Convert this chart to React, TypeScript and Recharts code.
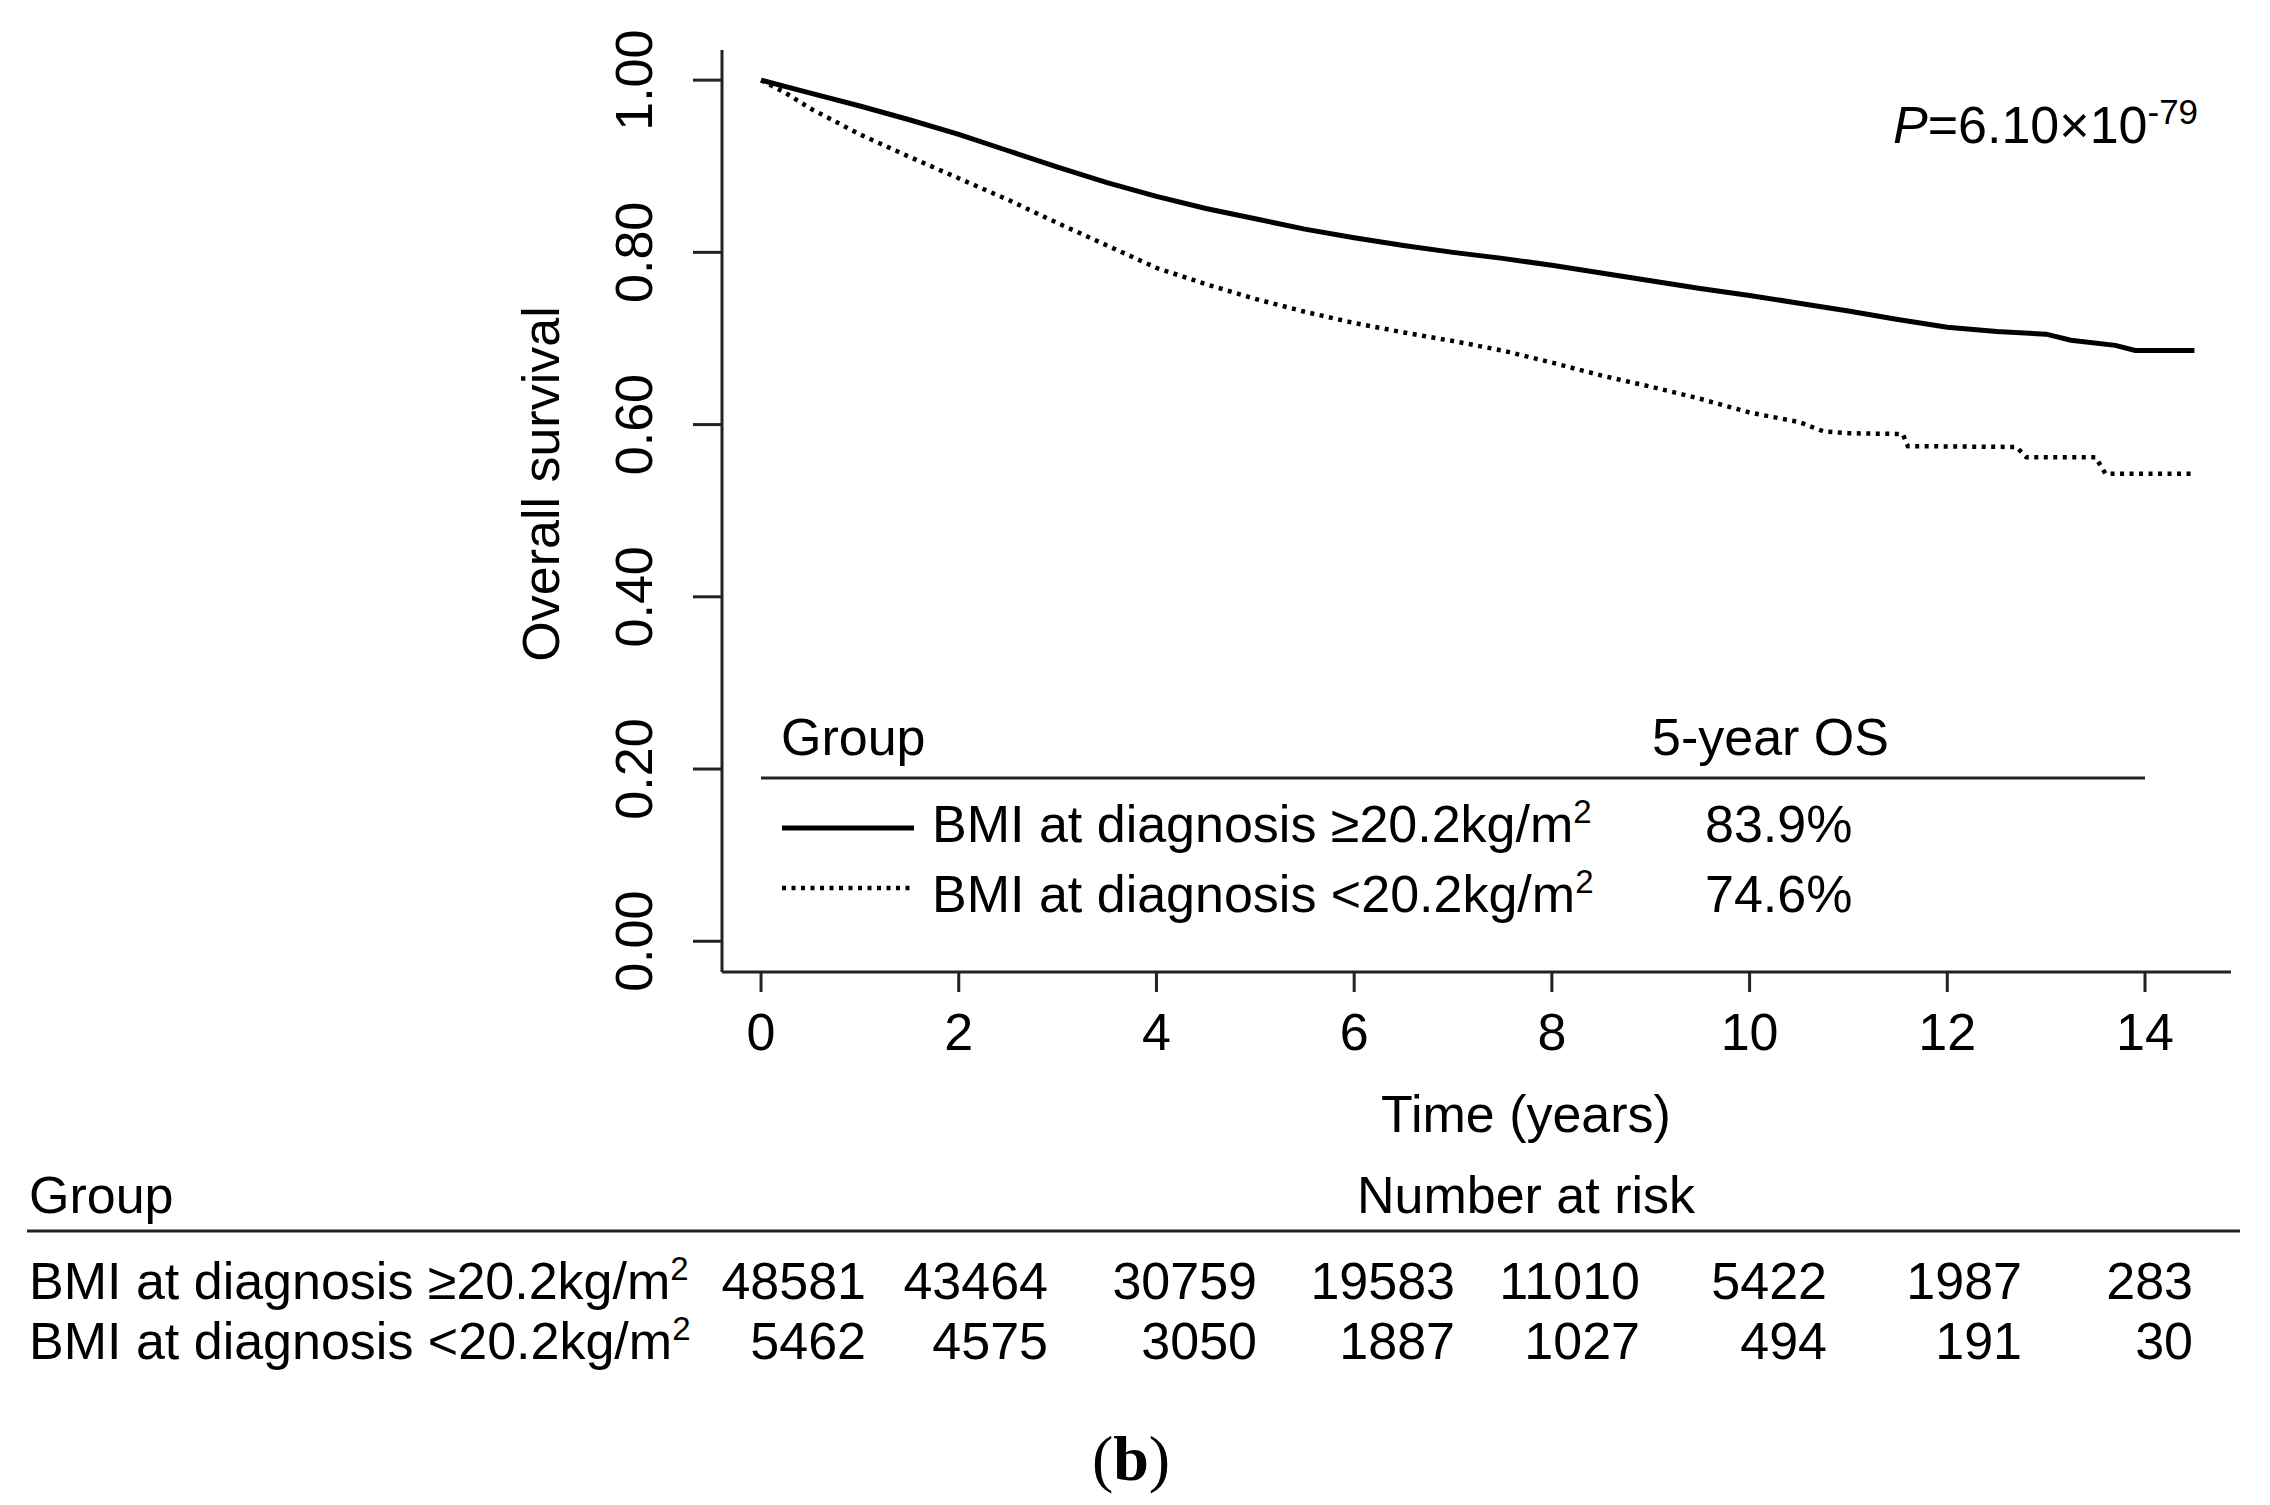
import React from "react";
import { LineChart, Line, XAxis, YAxis } from "recharts";

// ---------- data ----------
const groupLabels = ["BMI at diagnosis \u226520.2kg/m", "BMI at diagnosis <20.2kg/m"];
const fiveYearOS = ["83.9%", "74.6%"];
const xTicks = [0, 2, 4, 6, 8, 10, 12, 14];
const yTicks = [0, 0.2, 0.4, 0.6, 0.8, 1.0];
const riskHigh = [48581, 43464, 30759, 19583, 11010, 5422, 1987, 283];
const riskLow = [5462, 4575, 3050, 1887, 1027, 494, 191, 30];
const pValueText = { mantissa: "6.10", exponent: "-79" };

const highBmiCurve = [
  { t: 0, s: 1.0 }, { t: 0.5, s: 0.985 }, { t: 1, s: 0.97 }, { t: 1.5, s: 0.954 },
  { t: 2, s: 0.937 }, { t: 2.5, s: 0.918 }, { t: 3, s: 0.899 }, { t: 3.5, s: 0.881 },
  { t: 4, s: 0.865 }, { t: 4.5, s: 0.851 }, { t: 5, s: 0.839 }, { t: 5.5, s: 0.827 },
  { t: 6, s: 0.817 }, { t: 6.5, s: 0.808 }, { t: 7, s: 0.8 }, { t: 7.5, s: 0.793 },
  { t: 8, s: 0.785 }, { t: 8.5, s: 0.776 }, { t: 9, s: 0.767 }, { t: 9.5, s: 0.758 },
  { t: 10, s: 0.75 }, { t: 10.5, s: 0.741 }, { t: 11, s: 0.732 }, { t: 11.5, s: 0.722 },
  { t: 12, s: 0.713 }, { t: 12.5, s: 0.708 }, { t: 13, s: 0.705 }, { t: 13.25, s: 0.698 },
  { t: 13.7, s: 0.692 }, { t: 13.9, s: 0.686 }, { t: 14.5, s: 0.686 },
];

const lowBmiCurve = [
  { t: 0, s: 1.0 }, { t: 0.25, s: 0.985 }, { t: 0.5, s: 0.967 }, { t: 1, s: 0.937 },
  { t: 1.5, s: 0.911 }, { t: 2, s: 0.886 }, { t: 2.5, s: 0.861 }, { t: 3, s: 0.834 },
  { t: 3.5, s: 0.808 }, { t: 4, s: 0.782 }, { t: 4.5, s: 0.763 }, { t: 5, s: 0.746 },
  { t: 5.5, s: 0.731 }, { t: 6, s: 0.718 }, { t: 6.5, s: 0.707 }, { t: 7, s: 0.697 },
  { t: 7.5, s: 0.686 }, { t: 8, s: 0.672 }, { t: 8.5, s: 0.657 }, { t: 9, s: 0.644 },
  { t: 9.5, s: 0.63 }, { t: 10, s: 0.614 }, { t: 10.5, s: 0.603 }, { t: 10.75, s: 0.592 },
  { t: 11, s: 0.59 }, { t: 11.55, s: 0.589 }, { t: 11.6, s: 0.575 }, { t: 12.7, s: 0.574 },
  { t: 12.8, s: 0.562 }, { t: 13.5, s: 0.562 }, { t: 13.6, s: 0.543 }, { t: 14.5, s: 0.543 },
];

// ---------- layout ----------
const W = 2270;
const H = 1505;
const FONT = "'Liberation Sans', Arial, Helvetica, sans-serif";
const INK = "#000";
const AXIS = "#222";
const DOTS = "4 5.5";
const riskColRight = [866, 1048, 1257, 1455, 1640, 1827, 2022, 2193];

const XTick = (props: any) => {
  const { x, y, payload } = props;
  return (
    <text x={x} y={y + 58} textAnchor="middle" fontSize={52} fontFamily={FONT} fill={INK}>
      {payload.value}
    </text>
  );
};

const YTick = (props: any) => {
  const { x, y, payload } = props;
  return (
    <g transform={`translate(${x - 41}, ${y}) rotate(-90)`}>
      <text x={0} y={0} textAnchor="middle" fontSize={52} fontFamily={FONT} fill={INK}>
        {Number(payload.value).toFixed(2)}
      </text>
    </g>
  );
};

const txt = { fontFamily: FONT, fontSize: 52, fill: INK } as const;

const GroupLabel = ({ x, y, i }: { x: number; y: number; i: number }) => (
  <text x={x} y={y} {...txt}>
    {groupLabels[i]}
    <tspan fontSize={33} dy={-19}>2</tspan>
  </text>
);

export default function App() {
  return (
    <div style={{ position: "absolute", left: 0, top: 0, width: W, height: H, background: "#fff" }}>
      <LineChart width={W} height={H} margin={{ top: 50, right: 39, bottom: 473, left: 642 }}>
        <XAxis
          type="number"
          dataKey="t"
          domain={[-0.395, 14.87]}
          ticks={xTicks}
          interval={0}
          allowDataOverflow
          height={60}
          tickSize={20}
          tickMargin={0}
          axisLine={{ stroke: AXIS, strokeWidth: 3 }}
          tickLine={{ stroke: AXIS, strokeWidth: 3 }}
          tick={<XTick />}
        />
        <YAxis
          type="number"
          dataKey="s"
          domain={[-0.0357, 1.035]}
          ticks={yTicks}
          interval={0}
          allowDataOverflow
          width={80}
          tickSize={29}
          tickMargin={0}
          axisLine={{ stroke: AXIS, strokeWidth: 3 }}
          tickLine={{ stroke: AXIS, strokeWidth: 3 }}
          tick={<YTick />}
        />
        <Line
          data={highBmiCurve}
          dataKey="s"
          type="linear"
          stroke="#000"
          strokeWidth={5}
          dot={false}
          activeDot={false}
          isAnimationActive={false}
        />
        <Line
          data={lowBmiCurve}
          dataKey="s"
          type="linear"
          stroke="#000"
          strokeWidth={4.5}
          strokeDasharray={DOTS}
          dot={false}
          activeDot={false}
          isAnimationActive={false}
        />
      </LineChart>

      <svg
        width={W}
        height={H}
        style={{ position: "absolute", left: 0, top: 0, pointerEvents: "none" }}
      >
        {/* axis titles */}
        <g transform="translate(559, 484) rotate(-90)">
          <text x={0} y={0} textAnchor="middle" {...txt}>Overall survival</text>
        </g>
        <text x={1526} y={1132} textAnchor="middle" {...txt}>Time (years)</text>

        {/* p value */}
        <text x={1893} y={143} {...txt}>
          <tspan fontStyle="italic">P</tspan>
          <tspan>={pValueText.mantissa}{"\u00D7"}10</tspan>
          <tspan fontSize={35} dy={-19}>{pValueText.exponent}</tspan>
        </text>

        {/* legend */}
        <text x={781} y={755} {...txt}>Group</text>
        <text x={1652} y={755} {...txt}>5-year OS</text>
        <line x1={761} x2={2145} y1={778} y2={778} stroke={AXIS} strokeWidth={3} />
        <line x1={782} x2={914} y1={828} y2={828} stroke="#000" strokeWidth={5} />
        <line x1={782} x2={910} y1={888} y2={888} stroke="#000" strokeWidth={4.5} strokeDasharray={DOTS} />
        <GroupLabel x={932} y={842} i={0} />
        <GroupLabel x={932} y={912} i={1} />
        <text x={1705} y={842} {...txt}>{fiveYearOS[0]}</text>
        <text x={1705} y={912} {...txt}>{fiveYearOS[1]}</text>

        {/* number at risk table */}
        <text x={29} y={1213} {...txt}>Group</text>
        <text x={1526} y={1213} textAnchor="middle" {...txt}>Number at risk</text>
        <line x1={27} x2={2240} y1={1231} y2={1231} stroke={AXIS} strokeWidth={3} />
        <GroupLabel x={29} y={1299} i={0} />
        <GroupLabel x={29} y={1359} i={1} />
        {riskHigh.map((v, k) => (
          <text key={"h" + k} x={riskColRight[k]} y={1299} textAnchor="end" {...txt}>{v}</text>
        ))}
        {riskLow.map((v, k) => (
          <text key={"l" + k} x={riskColRight[k]} y={1359} textAnchor="end" {...txt}>{v}</text>
        ))}

        {/* panel label */}
        <text x={1131} y={1480} textAnchor="middle" fontFamily="'Liberation Serif', 'Times New Roman', serif" fontSize={64} fill={INK}>
          (<tspan fontWeight="bold">b</tspan>)
        </text>
      </svg>
    </div>
  );
}
